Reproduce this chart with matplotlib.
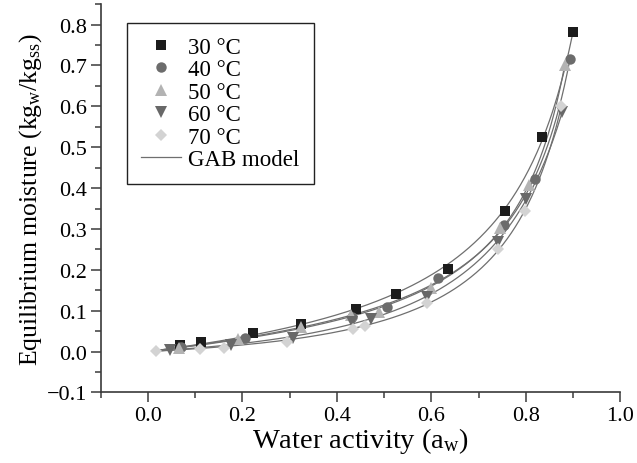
import matplotlib
matplotlib.use("Agg")
import matplotlib.pyplot as plt
import numpy as np
from matplotlib.lines import Line2D
from matplotlib.ticker import MultipleLocator

plt.rcParams["font.family"] = ["Liberation Serif", "DejaVu Serif"]
plt.rcParams["font.size"] = 16
plt.rcParams["axes.unicode_minus"] = True

# sorption data: water activity vs equilibrium moisture
aw30 = [0.068, 0.112, 0.223, 0.324, 0.440, 0.526, 0.635, 0.755, 0.833, 0.900]
m30 = [0.016, 0.024, 0.045, 0.068, 0.103, 0.140, 0.203, 0.345, 0.524, 0.781]

aw40 = [0.070, 0.206, 0.431, 0.507, 0.614, 0.753, 0.820, 0.893]
m40 = [0.012, 0.034, 0.085, 0.108, 0.180, 0.309, 0.422, 0.716]

aw50 = [0.065, 0.190, 0.325, 0.430, 0.489, 0.599, 0.746, 0.807, 0.882]
m50 = [0.010, 0.030, 0.060, 0.090, 0.096, 0.156, 0.302, 0.408, 0.700]

aw60 = [0.046, 0.175, 0.308, 0.431, 0.473, 0.590, 0.741, 0.800, 0.877]
m60 = [0.003, 0.016, 0.034, 0.073, 0.079, 0.134, 0.268, 0.374, 0.586]

aw70 = [0.018, 0.110, 0.161, 0.294, 0.433, 0.459, 0.590, 0.741, 0.798, 0.875]
m70 = [0.001, 0.006, 0.010, 0.024, 0.055, 0.063, 0.118, 0.250, 0.343, 0.601]

labels = ["30 °C", "40 °C", "50 °C", "60 °C", "70 °C"]
markers = ["s", "o", "^", "v", "D"]
colors = ["#1c1c1c", "#6c6c6c", "#b3b3b3", "#686868", "#d3d3d3"]
sizes = [6.5, 7.5, 8, 8, 6.5]
series = [(aw30, m30), (aw40, m40), (aw50, m50), (aw60, m60), (aw70, m70)]


def gab_fit(aw, m):
    # GAB linearised: aw/M = alpha*aw^2 + beta*aw + gamma
    aw = np.asarray(aw)
    m = np.asarray(m)
    keep = m > 0.005
    a, y = aw[keep], m[keep]
    return np.polyfit(a, a / y, 2, w=y ** 2 / a)


def fmt(v, pos):
    return f"{v:.1f}".replace("-", "\u2212")


fig = plt.figure(figsize=(6.37, 4.64), dpi=100)
ax = fig.add_axes([0.158, 0.152, 0.816, 0.837])

# GAB model curves first, markers on top
for aw, m in series:
    alpha, beta, gamma = gab_fit(aw, m)
    a = np.linspace(0.02, max(aw), 300)
    ax.plot(a, a / (alpha * a ** 2 + beta * a + gamma), color="#6f6f6f",
            linewidth=0.9, zorder=2)

for (aw, m), lab, mk, c, s in zip(series, labels, markers, colors, sizes):
    ax.plot(aw, m, linestyle="none", marker=mk, color=c, markersize=s,
            markeredgewidth=0, zorder=3)

ax.set_xlim(-0.1, 1.0)
ax.set_ylim(-0.1, 0.85)
ax.set_xticks(np.arange(0.0, 1.01, 0.2))
ax.set_yticks(np.arange(-0.1, 0.81, 0.1))
ax.xaxis.set_minor_locator(MultipleLocator(0.1))
ax.yaxis.set_minor_locator(MultipleLocator(0.05))
ax.xaxis.set_major_formatter(plt.FuncFormatter(fmt))
ax.yaxis.set_major_formatter(plt.FuncFormatter(fmt))

for side in ["top", "right"]:
    ax.spines[side].set_visible(False)
for side in ["left", "bottom"]:
    ax.spines[side].set_color("#3a3a3a")
    ax.spines[side].set_linewidth(1.2)
ax.tick_params(which="major", direction="out", length=7, width=1.1,
               color="#3a3a3a", labelsize=16, pad=3)
ax.tick_params(which="minor", direction="out", length=4, width=1.1,
               color="#3a3a3a")

ax.set_xlabel("Water activity (a$\\mathregular{_w}$)", fontsize=20.5, labelpad=0)
ax.set_ylabel("Equilibrium moisture (kg$\\mathregular{_w}$/kg$\\mathregular{_{ss}}$)",
              fontsize=18.5, labelpad=2)

handles = [Line2D([], [], linestyle="none", marker=mk, color=c, markersize=s,
                  markeredgewidth=0)
           for mk, c, s in zip(markers, colors, sizes)]
handles.append(Line2D([], [], color="#6f6f6f", linewidth=0.9))
leg = ax.legend(handles, labels + ["GAB model"], loc="upper left",
                bbox_to_anchor=(0.0506, 0.952), borderaxespad=0,
                fancybox=False, framealpha=1, edgecolor="#222222",
                fontsize=16.5, labelspacing=0.06, handlelength=1.75,
                handletextpad=0.3, borderpad=0.62)
leg.get_frame().set_linewidth(1.0)

fig.savefig("out.png", dpi=100)
